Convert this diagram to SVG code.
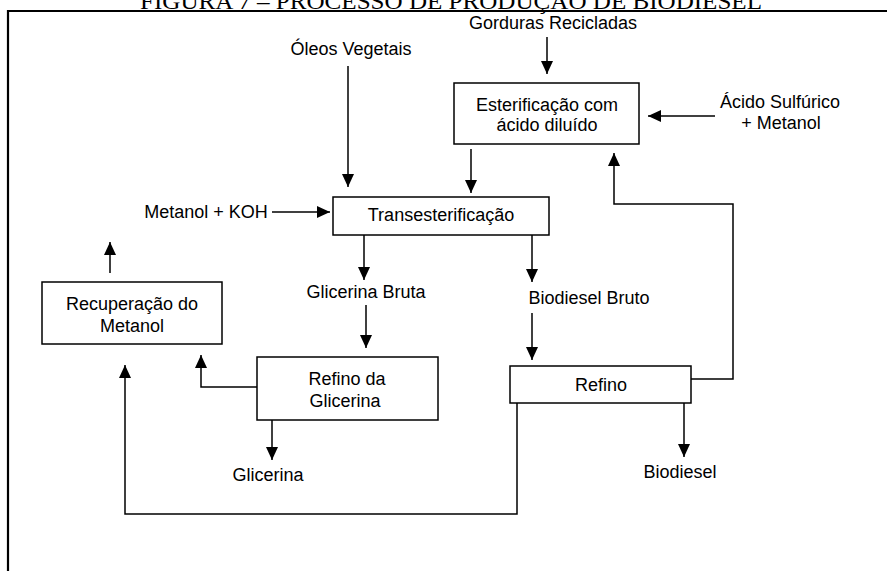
<svg xmlns="http://www.w3.org/2000/svg" width="887" height="571" viewBox="0 0 887 571">
<defs>
<style>
.t{font-family:"Liberation Sans",Arial,sans-serif;font-size:18px;fill:#000;text-anchor:middle}
.title{font-family:"Liberation Serif","Times New Roman",serif;font-size:24px;fill:#000}
.box{fill:#fff;stroke:#000;stroke-width:1.5}
.c{fill:none;stroke:#000;stroke-width:1.5;marker-end:url(#ah)}
</style>
<marker id="ah" markerUnits="userSpaceOnUse" markerWidth="14" markerHeight="13" refX="13" refY="6" orient="auto">
<path d="M0,0 L13,6 L0,12 Z" fill="#000"/>
</marker>
</defs>
<rect width="887" height="571" fill="#fff"/>
<text class="title" x="140" y="9" textLength="622" lengthAdjust="spacingAndGlyphs">FIGURA 7 – PROCESSO DE PRODUÇÃO DE BIODIESEL</text>
<path d="M8,571 V11 H887" fill="none" stroke="#000" stroke-width="2.2"/>

<g id="connectors">
<path class="c" d="M547,37 V74"/>
<path class="c" d="M715,116 H648"/>
<path class="c" d="M348,66 V187"/>
<path class="c" d="M471,149 V193"/>
<path class="c" d="M272,212 H330"/>
<path class="c" d="M364,235 V280"/>
<path class="c" d="M366,305 V348"/>
<path class="c" d="M532,235 V282"/>
<path class="c" d="M532,313 V360"/>
<path class="c" d="M684,403 V457"/>
<path class="c" d="M272,420 V460"/>
<path class="c" d="M257,387 H201 V355"/>
<path class="c" d="M110,273 V242"/>
<path class="c" d="M517,403 V514 H125 V365"/>
<path class="c" d="M691,379 H733 V204 H614 V153"/>
</g>

<g id="gorduras"><text class="t" x="553" y="29">Gorduras Recicladas</text></g>
<g id="oleos"><text class="t" x="351" y="55">Óleos Vegetais</text></g>
<g id="acido"><text class="t" x="780" y="108">Ácido Sulfúrico</text><text class="t" x="781" y="129">+ Metanol</text></g>
<g id="metanol-koh"><text class="t" x="206" y="218">Metanol + KOH</text></g>
<g id="esterificacao"><rect class="box" x="454" y="83" width="185" height="61"/><text class="t" x="547" y="111">Esterificação com</text><text class="t" x="547" y="131">ácido diluído</text></g>
<g id="transesterificacao"><rect class="box" x="333" y="197" width="216" height="38"/><text class="t" x="441" y="221">Transesterificação</text></g>
<g id="glicerina-bruta"><text class="t" x="366" y="298">Glicerina Bruta</text></g>
<g id="biodiesel-bruto"><text class="t" x="589" y="304">Biodiesel Bruto</text></g>
<g id="recuperacao"><rect class="box" x="42" y="282" width="180" height="62"/><text class="t" x="132" y="310">Recuperação do</text><text class="t" x="132" y="332">Metanol</text></g>
<g id="refino-glicerina"><rect class="box" x="257" y="357" width="181" height="63"/><text class="t" x="347" y="385">Refino da</text><text class="t" x="345" y="407">Glicerina</text></g>
<g id="refino"><rect class="box" x="510" y="366" width="181" height="37"/><text class="t" x="601" y="391">Refino</text></g>
<g id="glicerina"><text class="t" x="268" y="481">Glicerina</text></g>
<g id="biodiesel"><text class="t" x="680" y="478">Biodiesel</text></g>
</svg>
